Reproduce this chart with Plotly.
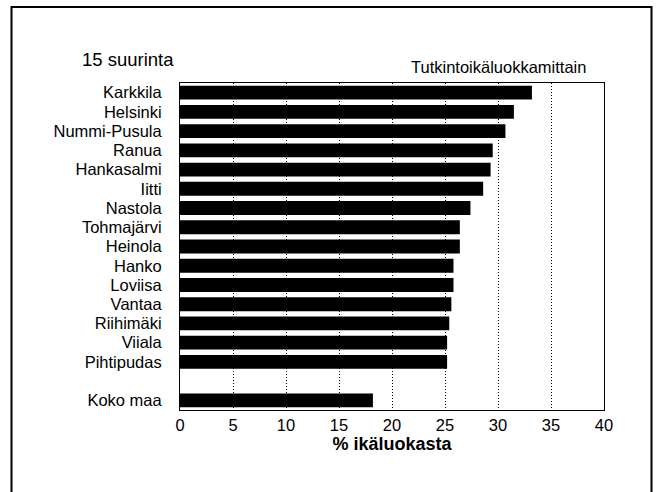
import plotly.graph_objects as go

categories = ["Karkkila", "Helsinki", "Nummi-Pusula", "Ranua", "Hankasalmi", "Iitti",
              "Nastola", "Tohmajärvi", "Heinola", "Hanko", "Loviisa", "Vantaa",
              "Riihimäki", "Viiala", "Pihtipudas", "Koko maa"]
values = [33.2, 31.5, 30.7, 29.5, 29.3, 28.6, 27.4, 26.4, 26.4, 25.8, 25.8, 25.6,
          25.4, 25.2, 25.2, 18.2]
positions = list(range(15)) + [16]
x_ticks = [0, 5, 10, 15, 20, 25, 30, 35, 40]

FONT = "Liberation Sans, Arial, Helvetica, sans-serif"

fig = go.Figure(go.Bar(
    x=values, y=positions, orientation="h",
    marker=dict(color="black", line=dict(width=0)),
    width=0.72,
))

W, H = 656, 492
L, R, T, B = 180, 52, 83, 82
pw, ph = W - L - R, H - T - B

def px(x):
    return (x - L) / pw

def py(y):
    return (H - B - y) / ph

fig.update_layout(
    width=W, height=H,
    margin=dict(l=L, r=R, t=T, b=B),
    paper_bgcolor="white", plot_bgcolor="white",
    font=dict(family=FONT, color="black", size=16.5),
    showlegend=False,
    xaxis=dict(
        range=[0, 40], tickvals=x_ticks, ticks="", showgrid=True,
        gridcolor="black", griddash="1px,2px", gridwidth=1,
        showline=True, linecolor="black", linewidth=1, mirror=True,
        zeroline=False, tickfont=dict(size=16.5),
        title=dict(text="<b>% ikäluokasta</b>", font=dict(size=18), standoff=4),
    ),
    yaxis=dict(
        range=[16.5, -0.5], tickvals=positions, ticktext=categories,
        ticks="", showgrid=False, showline=True, linecolor="black",
        linewidth=1, mirror=True, zeroline=False, tickfont=dict(size=16.5),
        ticklabelstandoff=14,
    ),
    annotations=[
        dict(text="15 suurinta", xref="paper", yref="paper", x=px(80), y=py(59),
             xanchor="left", yanchor="middle", showarrow=False,
             font=dict(size=18.5)),
        dict(text="Tutkintoikäluokkamittain", xref="paper", yref="paper",
             x=px(588), y=py(67), xanchor="right", yanchor="middle",
             showarrow=False, font=dict(size=16.5)),
    ],
    shapes=[
        dict(type="rect", xref="paper", yref="paper",
             x0=px(11.5), x1=px(651.5), y0=py(500), y1=py(7),
             line=dict(color="black", width=2), layer="below"),
    ],
)

fig.write_html("out.html", config={"displayModeBar": False},
               post_script="document.body.style.margin='0';")
